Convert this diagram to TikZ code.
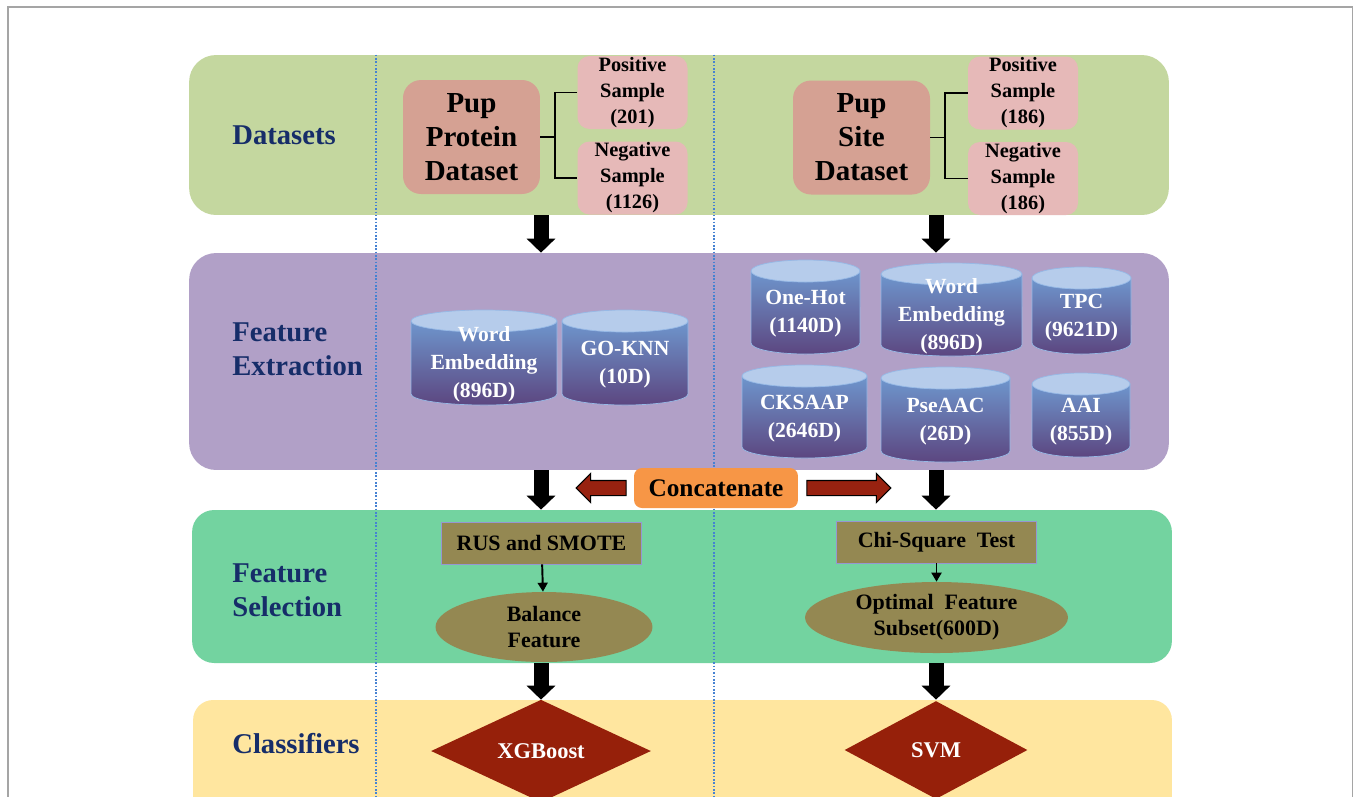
\documentclass[tikz,border=0pt]{standalone}
\usepackage{fontspec}
\setmainfont{Liberation Serif}
\usepackage{tikz}
\usetikzlibrary{shapes.geometric,shapes.arrows,arrows.meta,positioning}
\usepackage{xcolor}
\definecolor{dsgreen}{RGB}{196,215,159}
\definecolor{fepurple}{RGB}{177,160,199}
\definecolor{fsgreen}{RGB}{115,211,160}
\definecolor{clyellow}{RGB}{255,230,159}
\definecolor{navy}{RGB}{22,45,105}
\definecolor{pupfill}{RGB}{213,161,147}
\definecolor{samplefill}{RGB}{230,185,184}
\definecolor{drumtop}{RGB}{110,150,205}
\definecolor{drummid}{RGB}{45,88,148}
\definecolor{drumbot}{RGB}{92,70,128}
\definecolor{drumcapfill}{RGB}{182,204,235}
\definecolor{drumedge}{RGB}{150,185,230}
\definecolor{concatfill}{RGB}{247,150,70}
\definecolor{arrowred}{RGB}{152,34,16}
\definecolor{selfill}{RGB}{148,136,82}
\definecolor{seledge}{RGB}{150,150,210}
\definecolor{classred}{RGB}{150,32,10}
\definecolor{sepblue}{RGB}{70,130,210}
\definecolor{framegray}{RGB}{165,165,165}

\begin{document}
\begin{tikzpicture}[x=0.02cm, y=-0.02cm, %pupylation pipeline
  band/.style={rounded corners=0.54cm, inner sep=0},
  bandlabel/.style={anchor=west, align=left, inner sep=0, text=navy, font=\bfseries\fontsize{16.3}{19.5}\selectfont},
  pupbox/.style={fill=pupfill, rounded corners=0.36cm, minimum width=2.74cm, minimum height=2.28cm, align=center, inner sep=0, font=\bfseries\fontsize{16.5}{19.4}\selectfont},
  samplebox/.style={fill=samplefill, rounded corners=0.24cm, minimum width=2.2cm, minimum height=1.46cm, align=center, inner sep=0, font=\bfseries\fontsize{11.6}{14.8}\selectfont},
  bracket/.style={line width=1.1pt},
  bigarrow/.style={line width=0.3cm, -{Triangle[width=0.56cm,length=0.28cm]}},
  drumbody/.style={top color=drumtop, middle color=drummid, bottom color=drumbot, draw=drumedge, line width=0.4pt},
  drumcap/.style={fill=drumcapfill, draw=drumedge, line width=0.4pt},
  drumtext/.style={text=white, align=center, inner sep=0, font=\bfseries\fontsize{12.3}{15.9}\selectfont},
  concatbox/.style={fill=concatfill, rounded corners=0.16cm, minimum width=3.28cm, minimum height=0.8cm, inner sep=0, font=\bfseries\fontsize{14.4}{17}\selectfont},
  redarrow/.style={single arrow, fill=arrowred, draw=black, line width=0.6pt, inner sep=0.14cm, single arrow head extend=0.14cm, single arrow head indent=0cm},
  selbox/.style={fill=selfill, draw=seledge, line width=0.5pt, minimum width=4cm, minimum height=0.84cm, inner sep=0, font=\bfseries\fontsize{12.5}{14.7}\selectfont},
  seloval/.style={ellipse, fill=selfill, align=center, inner sep=0, font=\bfseries\fontsize{12.5}{14.7}\selectfont},
  smallarrow/.style={line width=1.1pt, -{Triangle[width=0.2cm,length=0.18cm]}},
  classdiamond/.style={diamond, fill=classred, inner sep=0, text=white, font=\bfseries\fontsize{12.8}{15}\selectfont},
  sepline/.style={draw=sepblue, densely dotted, line width=0.9pt}]
\def\featdrum#1#2#3#4#5#6{% name, left, top, right, bottom, text
  \shadedraw[drumbody] (#2,#3+11) -- (#2,#5-11) arc [start angle=180, end angle=360, x radius={(#4-#2)*0.2845pt}, y radius=6.26pt] -- (#4,#3+11) -- cycle;
  \filldraw[drumcap] ({(#2+#4)/2},#3+11) ellipse [x radius={(#4-#2)*0.2845pt}, y radius=6.26pt];
  \node[drumtext] (#1) at ({(#2+#4)/2},{(#3+#5)/2+7}) {#6};}
\clip (0,0) rectangle (1354,796);
\fill[white] (0,0) rectangle (1354,796);
\draw[framegray, line width=0.9pt] (8,800) -- (8,7) -- (1352.5,7) -- (1352.5,800);

% bands
\node[band, fill=dsgreen, minimum width=19.6cm, minimum height=3.2cm] (dsband) at (679,135) {};
\node[band, fill=fepurple, minimum width=19.6cm, minimum height=4.34cm] (feband) at (679,361.5) {};
\node[band, fill=fsgreen, minimum width=19.6cm, minimum height=3.06cm, rounded corners=0.44cm] (fsband) at (682,586.5) {};
\node[band, fill=clyellow, minimum width=19.58cm, minimum height=2.6cm, rounded corners=0.4cm] (clband) at (682.5,765) {};
\coordinate (sepA) at (376,800);
\coordinate (sepB) at (714,800);
\draw[sepline] (dsband.north -| sepA) -- (sepA);
\draw[sepline] (dsband.north -| sepB) -- (sepB);

\node[bandlabel] (dslab) at (232,135) {Datasets};
\node[bandlabel] (felab) at (232,349) {Feature\\Extraction};
\node[bandlabel] (fslab) at (232,590) {Feature\\Selection};
\node[bandlabel] (cllab) at (232,744) {Classifiers};

% datasets
\node[pupbox] (pupprot) at (471.5,137) {Pup\\Protein\\Dataset};
\node[samplebox] (posprot) at (632.5,92.5) {Positive\\Sample\\(201)};
\node[samplebox] (negprot) at (632.5,178) {Negative\\Sample\\(1126)};
\draw[bracket] (pupprot.east) -- ++(15,0) coordinate (forkprot);
\draw[bracket] (posprot.west) -| (forkprot) |- (negprot.west);
\node[pupbox] (pupsite) at (861.5,137.5) {Pup\\Site\\Dataset};
\node[samplebox] (possite) at (1023,93) {Positive\\Sample\\(186)};
\node[samplebox] (negsite) at (1023,178.5) {Negative\\Sample\\(186)};
\draw[bracket] (pupsite.east) -- ++(15,0) coordinate (forksite);
\draw[bracket] (possite.west) -| (forksite) |- (negsite.west);

% feature extraction
\featdrum{weprot}{411}{310}{557}{405}{Word\\Embedding\\(896D)}
\featdrum{goknn}{562}{310}{688}{405}{GO-KNN\\(10D)}
\featdrum{onehot}{751}{260}{860}{354}{One-Hot\\(1140D)}
\featdrum{wesite}{881}{263}{1022}{356}{Word\\Embedding\\(896D)}
\featdrum{tpc}{1032}{267}{1131}{354}{TPC\\(9621D)}
\featdrum{cksaap}{742}{365}{867}{458}{CKSAAP\\(2646D)}
\featdrum{pseaac}{881}{367}{1010}{462}{PseAAC\\(26D)}
\featdrum{aai}{1032}{373}{1130}{457}{AAI\\(855D)}

\node[concatbox] (concat) at (716,488) {Concatenate};
\node[redarrow, minimum height=1cm, shape border rotate=180, left=0.14cm of concat] (toleft) {};
\node[redarrow, minimum height=1.68cm, right=0.16cm of concat] (toright) {};

% feature selection
\node[selbox] (rus) at (541.5,543) {RUS and SMOTE};
\node[seloval, minimum width=4.34cm, minimum height=1.4cm] (balance) at (544,627) {Balance\\Feature};
\node[selbox] (chisq) at (936.5,542) {Chi-Square\ \ Test};
\node[seloval, minimum width=5.26cm, minimum height=1.42cm] (optimal) at (936.5,617.5) {Optimal\ \ Feature\\Subset(600D)};
\draw[smallarrow] (rus) -- (balance);
\draw[smallarrow] (chisq) -- (optimal);

% classifiers
\node[classdiamond, minimum width=4.4cm, minimum height=2cm] (xgb) at (541,751) {XGBoost};
\node[classdiamond, minimum width=3.66cm, minimum height=1.96cm] (svm) at (936,750) {SVM};

\coordinate (colA) at (541,0);
\coordinate (colB) at (936,0);
\draw[bigarrow] (dsband.south -| colA) -- (feband.north -| colA);
\draw[bigarrow] (dsband.south -| colB) -- (feband.north -| colB);
\draw[bigarrow] (feband.south -| colA) -- (fsband.north -| colA);
\draw[bigarrow] (feband.south -| colB) -- (fsband.north -| colB);
\draw[bigarrow] (fsband.south -| colA) -- (clband.north -| colA);
\draw[bigarrow] (fsband.south -| colB) -- (clband.north -| colB);
\end{tikzpicture}
\end{document}
